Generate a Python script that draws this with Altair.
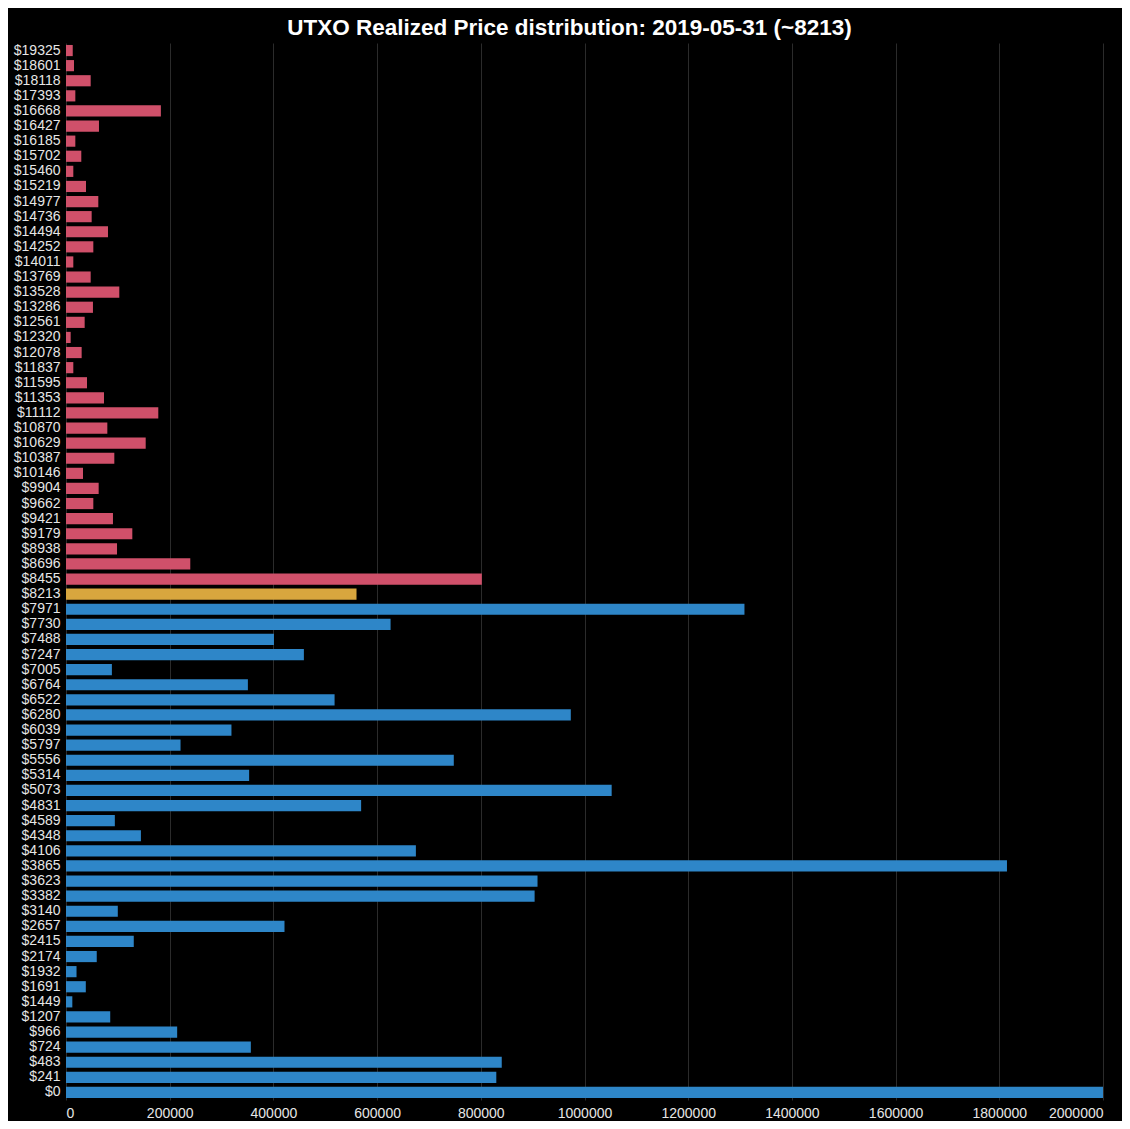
import altair as alt
import pandas as pd

prices = [19325, 18601, 18118, 17393, 16668, 16427, 16185, 15702, 15460, 15219,
          14977, 14736, 14494, 14252, 14011, 13769, 13528, 13286, 12561, 12320,
          12078, 11837, 11595, 11353, 11112, 10870, 10629, 10387, 10146, 9904,
          9662, 9421, 9179, 8938, 8696, 8455, 8213, 7971, 7730, 7488,
          7247, 7005, 6764, 6522, 6280, 6039, 5797, 5556, 5314, 5073,
          4831, 4589, 4348, 4106, 3865, 3623, 3382, 3140, 2657, 2415,
          2174, 1932, 1691, 1449, 1207, 966, 724, 483, 241, 0]

counts = [13000, 15400, 47600, 18000, 183000, 63600, 18000, 29500, 14100, 38600,
          62300, 49500, 81000, 52700, 14100, 47600, 102800, 52000, 36000, 9000,
          30200, 14100, 40500, 73300, 178000, 79700, 153700, 93200, 32800, 63000,
          52700, 90600, 127900, 98400, 239700, 802000, 560300, 1308500, 626000, 401100,
          458800, 88500, 350800, 518000, 973600, 319100, 220900, 747900, 353200, 1052400,
          569200, 94200, 144500, 674800, 1814800, 909400, 903800, 99900, 421400, 130700,
          59300, 20300, 38200, 12200, 85300, 214400, 356500, 840400, 829900, 2000000]

tick_values = [0, 200000, 400000, 600000, 800000, 1000000, 1200000, 1400000,
               1600000, 1800000, 2000000]

current_price = 8213

groups = ["above" if p > current_price else ("current" if p == current_price else "below")
          for p in prices]
labels = ["$" + str(p) for p in prices]

df = pd.DataFrame({"label": labels, "price": prices, "count": counts, "group": groups})

chart = alt.Chart(df).mark_bar().encode(
    y=alt.Y("label:N", sort=labels, title=None,
            scale=alt.Scale(paddingInner=0.26, paddingOuter=0.13),
            axis=alt.Axis(domain=False, ticks=False, grid=False, labelPadding=6,
                          labelFontSize=14, labelColor="#e6e6e6", labelFont="Liberation Sans")),
    x=alt.X("count:Q", title=None,
            scale=alt.Scale(domain=[0, 2000000], nice=False),
            axis=alt.Axis(domain=False, ticks=False, grid=True, gridColor="#2b2b2b",
                          values=tick_values, format="d",
                          labelPadding=6, labelFontSize=14, labelColor="#e6e6e6",
                          labelFont="Liberation Sans", labelFlush=True, labelOverlap=False)),
    color=alt.Color("group:N", legend=None,
                    scale=alt.Scale(domain=["above", "current", "below"],
                                    range=["#d0506a", "#d8a63e", "#2e86c8"])),
).properties(
    width=1037,
    height=1057,
    autosize=alt.AutoSizeParams(type="none"),
    padding={"left": 58, "top": 35, "right": 19, "bottom": 21},
    title=alt.TitleParams("UTXO Realized Price distribution: 2019-05-31 (~8213)",
                          color="#ffffff", fontSize=22.5, fontWeight="bold",
                          font="Liberation Sans", anchor="middle", frame="group",
                          dx=-15, offset=4),
).configure(background="#000000").configure_view(stroke=None)

chart.save("out.html", embed_options={"renderer": "svg", "actions": False})
